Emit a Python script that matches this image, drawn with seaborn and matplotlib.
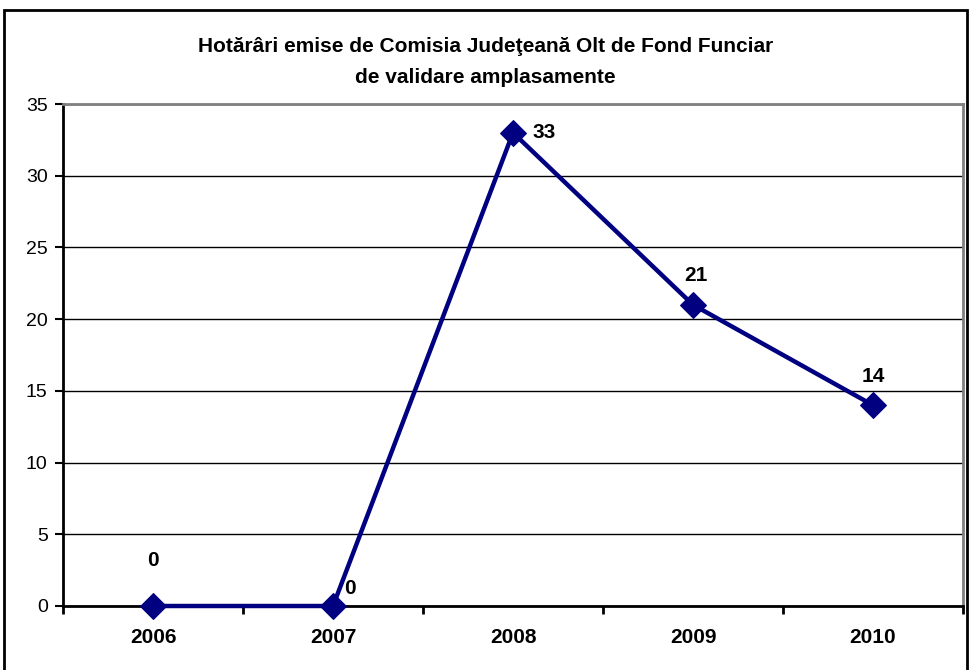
import matplotlib
matplotlib.use("Agg")
import matplotlib.pyplot as plt
from matplotlib.patches import Rectangle
import seaborn as sns
import pandas as pd

# Chart data
years = ["2006", "2007", "2008", "2009", "2010"]
hotarari = [0, 0, 33, 21, 14]
title = "Hotărâri emise de Comisia Judeţeană Olt de Fond Funciar\nde validare amplasamente"

df = pd.DataFrame({"an": years, "hotarari": hotarari})

sns.set_style("white")
plt.rcParams["font.family"] = ["Liberation Sans", "DejaVu Sans"]
plt.rcParams["text.color"] = "black"
plt.rcParams["xtick.color"] = "black"
plt.rcParams["ytick.color"] = "black"

W, H = 971, 670
fig = plt.figure(figsize=(W / 100, H / 100), dpi=100)
ax = fig.add_axes([63 / W, 1 - 606 / H, (963 - 63) / W, (606 - 104) / H])

navy = "#000080"
sns.lineplot(data=df, x="an", y="hotarari", ax=ax, color=navy, linewidth=3.2,
             marker="D", markersize=13, markeredgecolor=navy, sort=False,
             clip_on=False, zorder=5)

# data labels
offsets = [(0, 26), (8, 6), (14, 0), (2, 14), (0, 14)]
for i, (v, off) in enumerate(zip(hotarari, offsets)):
    ha = "center" if off[0] < 5 else "left"
    ax.annotate(str(v), (i, v), xytext=off, textcoords="offset points",
                ha=ha, va="bottom" if off[1] > 0 else "center",
                fontsize=15, fontweight="bold", color="black", zorder=6)

ax.set_xlim(-0.5, len(years) - 0.5)
ax.set_ylim(0, 35)
ax.set_yticks(range(0, 36, 5))
ax.yaxis.grid(True, color="black", linewidth=1)
ax.set_axisbelow(True)

# category boundaries as major ticks, labels at centres
ax.set_xticks([i - 0.5 for i in range(len(years) + 1)])
ax.set_xticklabels([])
ax.set_xticks(range(len(years)), minor=True)
ax.set_xticklabels(years, minor=True, fontsize=15, fontweight="bold")
ax.tick_params(axis="x", which="major", direction="out", length=6, width=2, bottom=True)
ax.tick_params(axis="x", which="minor", length=0, pad=16)
ax.tick_params(axis="y", direction="out", length=6, width=1.5, left=True, labelsize=14, pad=5)

ax.set_xlabel("")
ax.set_ylabel("")
for side in ["left", "bottom"]:
    ax.spines[side].set_color("black")
    ax.spines[side].set_linewidth(2)
for side in ["top", "right"]:
    ax.spines[side].set_color("#808080")
    ax.spines[side].set_linewidth(2)

fig.text(0.5, 1 - 62 / H, title, ha="center", va="center",
         fontsize=15, fontweight="bold", linespacing=1.75)

# outer chart border
fig.patches.append(Rectangle((4 / W, -0.05), (967 - 4) / W, 1.05 - 10 / H,
                             transform=fig.transFigure, fill=False,
                             edgecolor="black", linewidth=2))

fig.savefig("out.png", dpi=100)
